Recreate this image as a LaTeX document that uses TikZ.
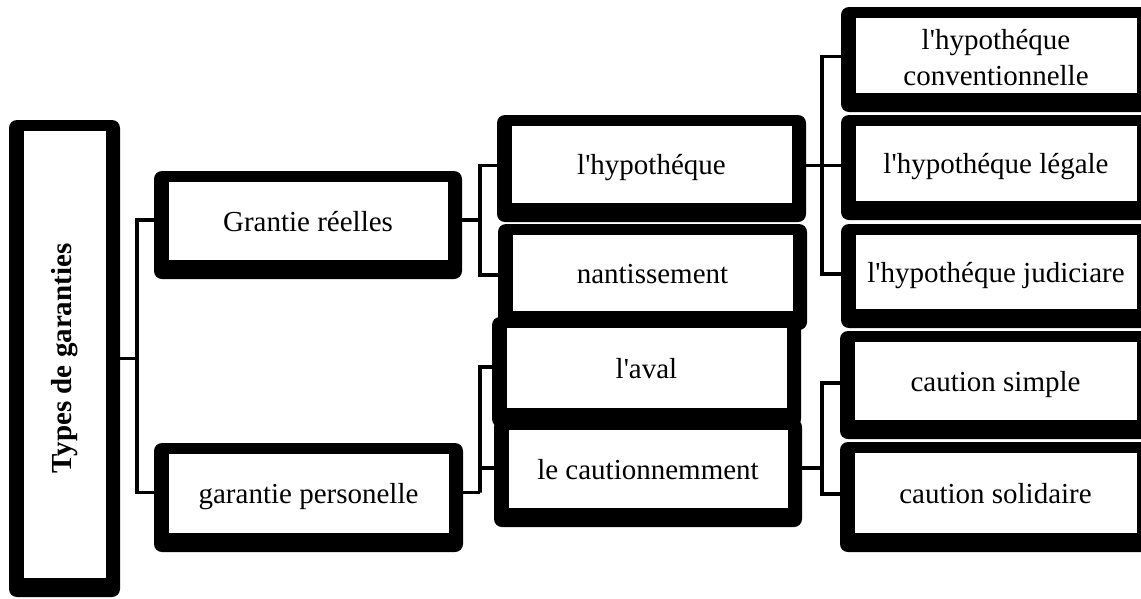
\documentclass[tikz,border=0pt]{standalone}
\usepackage{fontspec}
\setmainfont{Liberation Serif}[Ligatures=TeXOff]
\usepackage{tikz}

\tikzset{
  gframe/.style={fill=black, rounded corners=8pt, inner sep=0pt, text=black,
    font=\fontsize{29}{38}\selectfont, align=center,
    path picture={\fill[white, sharp corners]
      ([shift={(15pt,19pt)}]path picture bounding box.south west) rectangle
      ([shift={(-14pt,-11pt)}]path picture bounding box.north east);}},
  gbox/.style={gframe, text height=20pt, text depth=8pt},
  link/.style={line width=3.5pt}
}

\begin{document}
\begin{tikzpicture}[x=1pt, y=-1pt]
  \useasboundingbox (0,0) rectangle (1141,598);
  % first level
  \node[gframe, minimum width=111pt, minimum height=477pt] (root) at (64.5,358.5)
    {\rotatebox{90}{\bfseries Types de garanties}};
  \node[gbox, minimum width=308pt, minimum height=108pt] (reel) at (308,225) {Grantie réelles};
  \node[gbox, minimum width=309pt, minimum height=109pt] (perso) at (308.5,497.5) {garantie personelle};
  % second level
  \node[gbox, minimum width=309pt, minimum height=107pt] (hypo) at (651.5,168.5) {l'hypothéque};
  \node[gbox, minimum width=308pt, minimum height=108pt] (caut) at (648,473) {le cautionnemment};
  \node[gbox, minimum width=309pt, minimum height=106pt] (nant) at (652.5,277) {nantissement};
  \node[gbox, minimum width=309pt, minimum height=110pt] (aval) at (646.5,372) {l'aval};
  % third level
  \node[gframe, minimum width=310pt, minimum height=105pt] (conv) at (996,59.5)
    {\raisebox{5pt}{\begin{tabular}{@{}c@{}}l'hypothéque\\[-2pt]conventionnelle\end{tabular}}};
  \node[gbox, minimum width=310pt, minimum height=105pt] (legale) at (996,167.5) {l'hypothéque légale};
  \node[gbox, minimum width=310pt, minimum height=104pt] (judic) at (996,276) {l'hypothéque judiciare};
  \node[gbox, minimum width=311pt, minimum height=108pt] (simple) at (995.5,385) {caution simple};
  \node[gbox, minimum width=311pt, minimum height=110pt] (solid) at (995.5,497) {caution solidaire};

  % connectors
  \draw[link] (root.east) -- ++(17,0) coordinate (j0);
  \draw[link] ([yshift=5pt]reel.west) -| (j0) |- ([yshift=5pt]perso.west);
  \draw[link] ([yshift=5pt]reel.east) -- ++(18,0) coordinate (j1);
  \draw[link] ([yshift=3pt]hypo.west) -| (j1) |- ([yshift=2pt]nant.west);
  \draw[link] ([yshift=5pt]perso.east) -- ++(17,0) coordinate (j2);
  \draw[link] ([yshift=5pt]aval.west) -| (j2) |- ([yshift=5pt]caut.west);
  \draw[link] ([yshift=3pt]hypo.east) -- ++(16,0) coordinate (j3);
  \draw[link] ([yshift=3pt]conv.west) -| (j3) |- ([yshift=2pt]judic.west);
  \draw[link] (j3) -- (j3 -| legale.west);
  \draw[link] ([yshift=5pt]caut.east) -- ++(20,0) coordinate (j4);
  \draw[link] ([yshift=2pt]simple.west) -| (j4) |- ([yshift=3pt]solid.west);
\end{tikzpicture}
\end{document}
